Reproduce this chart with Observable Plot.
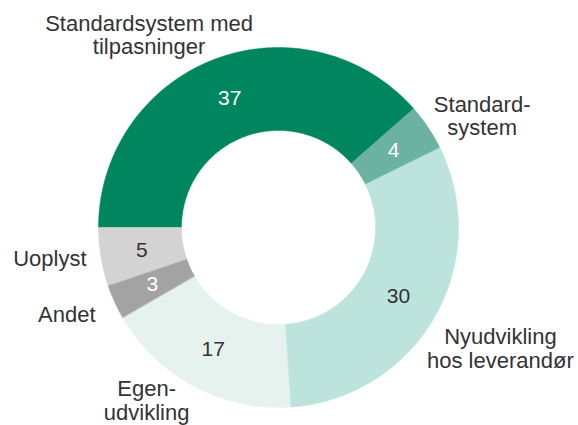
<!DOCTYPE html>
<html><head><meta charset="utf-8">
<script src="https://cdn.jsdelivr.net/npm/d3@7"></script>
<script src="https://cdn.jsdelivr.net/npm/@observablehq/plot@0.6"></script>
<style>html,body{margin:0;padding:0;background:#fff;}</style>
</head><body><div id="chart"></div>
<script>
// ---- data ----
const categories = ["Standardsystem med tilpasninger", "Standardsystem", "Nyudvikling hos leverandør", "Egenudvikling", "Andet", "Uoplyst"];
const labels = ["Standardsystem med\ntilpasninger", "Standard-\nsystem", "Nyudvikling\nhos leverandør", "Egen-\nudvikling", "Andet", "Uoplyst"];
const values = [37, 4, 30, 17, 3, 5];

// ---- styles ----
const colors = ["#00865F", "#6CB2A2", "#BDE3DD", "#E6F2EE", "#A3A3A3", "#D3D3D3"];
const lightValueText = ["Standardsystem med tilpasninger", "Standardsystem", "Andet"];
const textColor = "#333333";

// ---- layout ----
const W = 578, H = 425, CX = 278, CY = 227, R = 180, R0 = 97;
// label offsets (px) from the slice's outer-edge mid point
const labelLayout = {
  "Standardsystem med tilpasninger": {dx: -66, dy: -24, anchor: "middle"},
  "Standardsystem": {dx: 54, dy: -11.5, anchor: "middle"},
  "Nyudvikling hos leverandør": {dx: 66, dy: 31, anchor: "middle"},
  "Egenudvikling": {dx: -47, dy: 14, anchor: "middle"},
  "Andet": {dx: -19, dy: 13.4, anchor: "end"},
  "Uoplyst": {dx: -14.4, dy: 1.7, anchor: "end"}
};

const data = categories.map((c, i) => ({key: c, label: labels[i], value: values[i]}));
const pie = d3.pie().sort(null).value(d => d.value).startAngle(-Math.PI / 2).endAngle(1.5 * Math.PI);
const arcs = pie(data);
const polar = (a, rho) => [rho * Math.sin(a), rho * Math.cos(a)];

const poly = [];
arcs.forEach(a => {
  const n = Math.max(4, Math.ceil((a.endAngle - a.startAngle) / (Math.PI / 360)));
  for (let k = 0; k <= n; k++) {
    const t = a.startAngle + (a.endAngle - a.startAngle) * k / n;
    const [x, y] = polar(t, R);
    poly.push({key: a.data.key, x, y});
  }
  for (let k = n; k >= 0; k--) {
    const t = a.startAngle + (a.endAngle - a.startAngle) * k / n;
    const [x, y] = polar(t, R0);
    poly.push({key: a.data.key, x, y});
  }
});

const valueLabels = arcs.map(a => {
  const mid = (a.startAngle + a.endAngle) / 2;
  const [x, y] = polar(mid, (R + R0) / 2);
  return {key: a.data.key, x, y, text: String(a.data.value)};
});
const catLabels = arcs.map(a => {
  const mid = (a.startAngle + a.endAngle) / 2;
  const [x, y] = polar(mid, R);
  const L = labelLayout[a.data.key];
  return {key: a.data.key, x: x + L.dx, y: y - L.dy, text: a.data.label, anchor: L.anchor};
});

const chart = Plot.plot({
  width: W, height: H, margin: 0,
  style: {fontFamily: "'Liberation Sans', Arial, sans-serif", background: "#fff"},
  x: {domain: [-CX, W - CX], axis: null},
  y: {domain: [CY - H, CY], axis: null},
  color: {domain: categories, range: colors},
  marks: [
    Plot.line(poly, {x: "x", y: "y", z: "key", fill: "key", stroke: "key", strokeWidth: 0.5, curve: "linear-closed"}),
    Plot.text(valueLabels.filter(d => lightValueText.includes(d.key)), {x: "x", y: "y", text: "text", fill: "white", fontSize: 21}),
    Plot.text(valueLabels.filter(d => !lightValueText.includes(d.key)), {x: "x", y: "y", text: "text", fill: textColor, fontSize: 21}),
    Plot.text(catLabels.filter(d => d.anchor === "middle"), {x: "x", y: "y", text: "text", fill: textColor, fontSize: 22, textAnchor: "middle", lineAnchor: "middle", lineHeight: 1.07}),
    Plot.text(catLabels.filter(d => d.anchor === "end"), {x: "x", y: "y", text: "text", fill: textColor, fontSize: 22, textAnchor: "end", lineAnchor: "middle"})
  ]
});
document.getElementById("chart").appendChild(chart);
</script>
</body></html>
